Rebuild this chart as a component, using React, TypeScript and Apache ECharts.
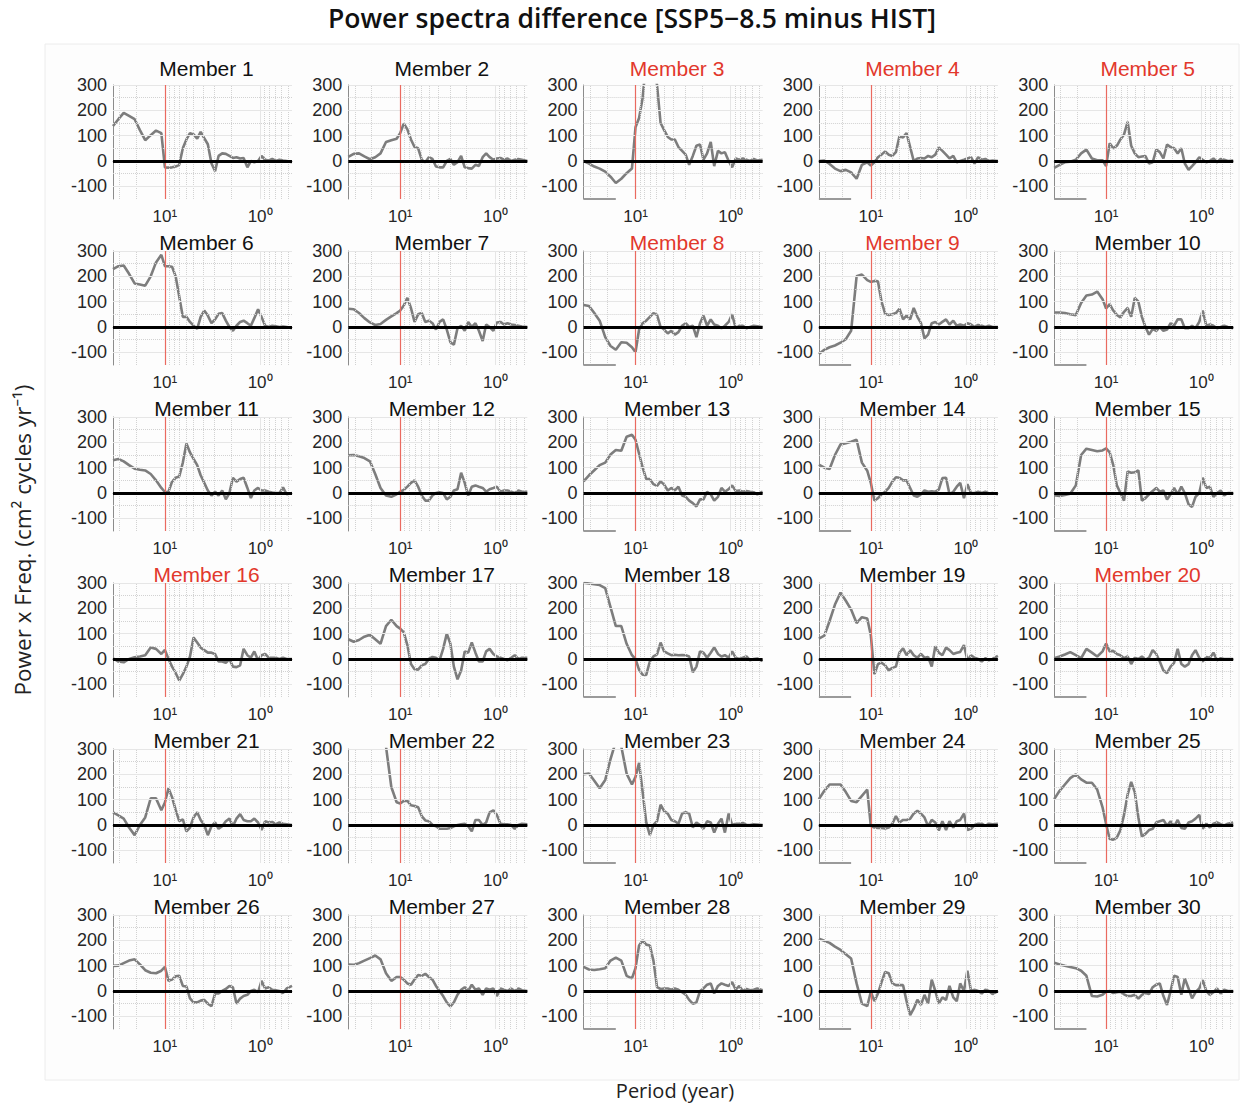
import React, { useEffect, useRef } from "react";
import * as echarts from "echarts";

// Period grid (years), long periods first
const periods = [35.1, 30.8, 27.1, 23.8, 20.8, 18.3, 16.1, 14.1, 12.4, 10.9, 10.0, 9.17, 8.41, 7.71, 7.07, 6.48, 5.94, 5.45, 5.0, 4.58, 4.21, 3.86, 3.54, 3.24, 2.97, 2.73, 2.5, 2.29, 2.1, 1.93, 1.77, 1.62, 1.49, 1.36, 1.25, 1.15, 1.05, 0.966, 0.885, 0.812, 0.745, 0.683, 0.626, 0.574, 0.526, 0.462];

const member1 = [138, 165, 190, 178, 165, 122, 82, 102, 120, 110, -25, -26, -25, -22, -15, 50, 85, 110, 105, 88, 115, 90, 66, -10, -40, 20, 30, 28, 20, 12, 15, 10, 12, -25, 0, -5, 0, 20, 5, 2, 8, 0, 5, 2, 0, -5];
const member2 = [16, 28, 30, 18, 7, 15, 30, 75, 82, 88, 110, 148, 125, 85, 55, 50, 5, -5, 15, 8, -22, -25, -25, 0, 8, -15, -5, 20, -25, -28, -30, -15, -20, 15, 30, 15, 5, 10, 12, 5, 10, 0, 5, 8, 5, 0];
const member3 = [0, -10, -22, -30, -42, -62, -87, -70, -48, -30, 133, 170, 250, 400, 420, 380, 300, 150, 122, 95, 85, 85, 55, 40, 25, -15, 20, 60, 65, 5, 30, 75, -20, 40, 30, 35, 0, -25, 10, 5, 10, 5, 0, 8, 2, 5];
const member4 = [0, 2, -12, -30, -40, -35, -45, -70, -15, -5, -18, -5, 15, 25, 38, 25, 20, 35, 98, 93, 110, 55, 0, 10, 12, 10, 20, 15, 25, 53, 40, 25, 10, 20, -5, 0, 5, 10, 15, -10, 15, 5, 8, 0, 2, 0];
const member5 = [-27, -15, -5, -3, 5, 30, 45, 10, 3, 3, -20, 70, 50, 60, 85, 105, 155, 60, 30, 15, 18, 20, -10, -5, 45, 35, 10, 65, 55, 50, 30, 50, -10, -35, -20, -5, 15, 5, -5, 0, 10, -5, 8, 5, 0, 2];
const member6 = [228, 240, 243, 210, 172, 168, 163, 200, 255, 285, 240, 240, 238, 200, 120, 40, 40, 20, 5, -7, 40, 65, 45, 15, 30, 52, 55, 25, 0, -15, 5, 20, 25, 15, 5, 35, 70, 40, 5, 0, 5, 3, 0, 2, 0, -5];
const member7 = [72, 70, 55, 35, 18, 8, 12, 28, 42, 55, 65, 85, 115, 75, 20, 50, 55, 20, 25, 15, -10, 20, 30, -10, -60, -70, -5, 5, -15, 20, 0, 15, -15, -55, 10, 0, -15, 18, 20, 10, 15, 10, 8, 5, 2, 0];
const member8 = [87, 83, 55, 25, -40, -75, -90, -60, -62, -80, -100, -10, 15, 25, 40, 55, 48, 0, -10, -25, -15, -30, -20, 5, 15, 0, 5, -40, 15, 45, 5, 30, 10, 5, -5, 5, 20, 50, -5, 5, 5, -5, 0, 5, 3, 0];
const member9 = [-107, -90, -80, -73, -62, -48, -15, 200, 207, 185, 178, 182, 180, 100, 53, 47, 50, 55, 72, 30, 45, 30, 75, 40, 15, -45, -30, 15, 20, 10, 20, 30, 10, 25, 5, 10, 5, 15, 10, 0, 8, 5, 0, 5, 0, 0];
const member10 = [57, 57, 55, 50, 47, 95, 124, 128, 140, 110, 73, 90, 65, 48, 38, 60, 75, 40, 115, 100, 40, 0, -30, -8, -15, 0, -15, -10, 15, 5, 30, 30, -5, -5, 5, -5, 20, 65, 5, 10, 5, -5, 0, 5, 0, -5];
const member11 = [129, 134, 125, 110, 96, 92, 89, 75, 50, 20, 4, 5, 45, 60, 65, 120, 195, 160, 135, 110, 70, 40, 10, -10, 5, -10, 10, -25, 0, 60, 45, 55, 60, 20, -20, 10, 20, 10, 10, 5, 2, 0, 0, 22, -5, 0];
const member12 = [149, 150, 145, 138, 125, 75, 20, -10, -15, -5, 5, 12, 25, 40, 50, 25, -10, -30, -30, -10, 0, 3, 0, -25, -15, 10, 15, 80, 40, -10, 25, 30, 25, 20, 5, 15, 20, 25, 5, 10, 10, 5, 0, 10, 5, 5];
const member13 = [46, 70, 90, 110, 120, 152, 170, 167, 222, 230, 210, 155, 100, 55, 55, 35, 28, 46, 33, 10, 20, 10, 25, -10, -15, -30, -40, -53, -25, -25, 5, -5, -30, -15, 20, 5, 15, 30, 8, 10, 5, 8, 5, 3, -5, 5];
const member14 = [112, 100, 95, 150, 192, 196, 202, 210, 120, 88, 40, -30, -20, -5, 5, 20, 45, 62, 60, 50, 50, 20, -10, -15, -5, 10, 5, 7, 5, 13, 59, 60, -5, 5, 25, 40, -20, 35, 0, 0, 5, 0, 5, -2, 0, -5];
const member15 = [-9, -12, -8, -3, 30, 150, 175, 170, 165, 168, 176, 160, 110, 30, 0, -30, 85, 80, 82, 89, -30, -20, -5, 8, 20, 5, 10, -26, -5, 20, -5, 25, 0, -45, -55, -15, 0, 60, 20, 25, -15, 0, 10, -10, 0, 0];
const member16 = [3, -10, -13, 0, 7, 10, 15, 45, 40, 20, 36, 0, -30, -55, -85, -60, -30, 10, 85, 65, 45, 35, 25, 25, 20, -10, -10, -15, 0, -30, -32, -25, 40, 15, 5, 30, -5, 15, 20, 5, 5, 5, 0, 5, 0, 0];
const member17 = [78, 68, 75, 88, 96, 78, 60, 130, 155, 130, 120, 105, 55, -20, -40, -42, -25, -20, 0, 8, 5, -5, 40, 100, 60, -30, -80, -45, 30, 25, 65, 25, -10, -10, 30, 40, 20, 10, 5, 0, -5, 5, 15, 0, 5, 5];
const member18 = [301, 298, 295, 292, 280, 205, 130, 130, 60, 15, 0, -43, -62, -63, -10, 10, 18, 65, 30, 22, 15, 17, 15, 16, 15, 10, -52, -30, 30, 25, 5, 25, 46, 20, 10, 15, 5, 30, 5, 0, 5, 10, -5, 0, 2, -8];
const member19 = [80, 92, 150, 215, 262, 230, 195, 142, 165, 160, 94, -60, -20, -15, -25, -45, -35, -30, 25, 42, 15, 35, 15, 5, 20, 5, 8, -30, 50, 25, 15, 45, 35, 20, 25, 28, 55, -5, 15, 5, 0, -10, 3, -5, 0, 12];
const member20 = [3, 10, 18, 27, 15, 3, 40, 25, 10, 30, 61, 30, 32, 20, 15, 3, 10, -20, 5, 0, 10, -3, 5, 35, 20, -10, -45, -56, -30, -15, 40, -20, -30, -20, 15, 35, 5, -10, 8, 5, 25, -5, 3, 0, 0, 0];
const member21 = [50, 38, 25, -10, -40, 0, 30, 105, 105, 58, 89, 145, 110, 60, 15, 22, -25, -10, 30, 50, 20, 0, -40, -5, 10, -15, -5, 15, 25, -5, 25, 43, 20, 15, 15, 25, 10, -20, 15, 10, 12, 3, 10, 5, 3, 0];
const member22 = [700, 650, 600, 530, 470, 420, 370, 310, 150, 90, 85, 95, 95, 78, 75, 70, 35, 18, 15, 0, -5, -15, -15, -15, -12, -5, 0, 3, 5, -5, -25, 20, 20, 0, 10, 50, 58, 40, 5, 3, 3, 0, -15, 0, 5, 3];
const member23 = [200, 203, 175, 145, 178, 260, 330, 310, 203, 160, 190, 245, 130, 10, -40, 0, 15, 80, 55, 45, 20, 15, 5, 45, 50, 45, -10, 10, 0, -15, 15, 10, -30, 5, 25, -30, 45, 0, 5, 5, 8, 0, 0, 3, 2, 0];
const member24 = [102, 135, 160, 160, 160, 130, 95, 90, 115, 140, -3, -10, -12, -12, -14, -10, 5, 35, 10, 20, 20, 25, 45, 56, 45, 30, -5, 20, 10, -22, 15, -20, 15, -10, 15, 20, 45, -20, -15, 0, 5, 5, -3, 5, 3, 5];
const member25 = [102, 135, 160, 185, 200, 180, 167, 167, 140, 70, 4, -55, -58, -50, -20, 40, 120, 170, 130, 30, -45, -35, -20, -15, 10, 15, 20, -3, 15, -5, 20, -12, -15, 10, 15, 25, 40, -15, 5, -10, 5, 10, 3, -2, 5, 10];
const member26 = [99, 100, 110, 120, 125, 105, 82, 72, 70, 80, 95, 40, 45, 58, 60, 20, 18, -29, -45, -45, -38, -35, -50, -60, -10, -10, 0, 8, 20, 15, -50, -30, -20, -15, 0, 5, -5, 40, 10, 15, 5, 3, 0, -8, 10, 20];
const member27 = [104, 103, 110, 120, 130, 140, 125, 70, 40, 55, 55, 45, 30, 25, 45, 63, 60, 68, 55, 45, 20, 0, -20, -45, -61, -45, -15, 5, 15, 0, 25, 5, 10, -15, 10, 5, 10, -20, 10, 5, 0, 10, 0, 10, 3, 0];
const member28 = [95, 85, 83, 86, 90, 120, 132, 120, 60, 50, 90, 180, 200, 183, 180, 120, 15, 8, 10, 10, 5, 10, 5, -5, -15, -35, -50, -45, 0, 10, 25, 30, -10, 20, 30, 25, 20, 35, 5, 20, 0, 8, 3, 5, 10, 3];
const member29 = [206, 198, 190, 175, 162, 145, 128, 30, -50, -60, -3, -40, -10, 35, 75, 70, 30, 23, 23, 23, -40, -95, -70, -35, -55, -15, -50, 45, 0, -50, -25, -35, 20, -25, -40, 30, 0, 80, 0, 5, 0, -10, 5, 0, -12, 0];
const member30 = [112, 105, 100, 95, 90, 80, 60, -20, -22, -15, -3, 0, -8, -5, -3, -13, -20, -20, -15, -30, -15, -8, -12, 15, 25, 30, -20, -55, 0, 60, 55, -15, 50, 10, -29, -5, 10, 43, 0, -15, -5, 10, -10, 5, 0, 0];

const members = [member1, member2, member3, member4, member5, member6, member7, member8, member9, member10, member11, member12, member13, member14, member15, member16, member17, member18, member19, member20, member21, member22, member23, member24, member25, member26, member27, member28, member29, member30];
const memberNames = members.map((_, i) => `Member ${i + 1}`);
const highlightedMembers = [3, 4, 5, 8, 9, 16, 20];

const yMajorTicks = [-100, 0, 100, 200, 300];
const yMinorTicks = [-50, 50, 150, 250];
const xMajorTicks = [1, 10];
const xMinorTicks = [0.5, 0.6, 0.7, 0.8, 0.9, 2, 3, 4, 5, 6, 7, 8, 9, 20, 30];
const dividingPeriod = 10;
const periodRange = [0.462, 35.1];
const valueRange = [-150, 300];
const artifactSpan = [35.1, 16.1];

const TITLE = "Power spectra difference [SSP5\u22128.5 minus HIST]";
const Y_TITLE = "Power x Freq. (cm\u00B2 cycles yr\u207B\u00B9)";
const X_TITLE = "Period (year)";

export default function App() {
  const ref = useRef<HTMLDivElement>(null);
  useEffect(() => {
    const chart = echarts.init(ref.current!, null, { renderer: "svg" });
    const grids: any[] = [];
    const xAxes: any[] = [];
    const yAxes: any[] = [];
    const series: any[] = [];
    const graphics: any[] = [];

    graphics.push({
      type: "rect",
      shape: { x: 45, y: 44, width: 1194, height: 1036 },
      style: { fill: "#fdfdfd", stroke: "#ececec", lineWidth: 1 },
      z: -10,
    });

    const W = 179;
    const H = 114;
    const tickFont = "'Liberation Sans', Arial, sans-serif";
    const labelFont = "'Open Sans', 'Noto Sans', sans-serif";
    const dotted = { type: "dotted", color: "#d2d2d2", width: 1 };
    const solid = { type: "solid", color: "#e6e6e6", width: 1 };

    members.forEach((vals, i) => {
      const r = Math.floor(i / 5);
      const c = i % 5;
      const left = 113 + c * 235.3;
      const top = 85 + r * 166;
      grids.push({ left, top, width: W, height: H });
      xAxes.push({
        type: "log",
        logBase: 10,
        gridIndex: i,
        min: periodRange[0],
        max: periodRange[1],
        inverse: true,
        axisLine: { show: true, lineStyle: { color: "#8c8c8c", width: 1 } },
        axisTick: { show: false },
        splitLine: { show: false },
        axisLabel: {
          margin: 9,
          fontSize: 17,
          color: "#262626",
          fontFamily: tickFont,
          formatter: (v: number) => {
            const e = Math.log10(v);
            if (Math.abs(e - 1) < 1e-6) return "10\u00B9";
            if (Math.abs(e) < 1e-6) return "10\u2070";
            return "";
          },
        },
      });
      yAxes.push({
        type: "value",
        gridIndex: i,
        min: valueRange[0],
        max: valueRange[1],
        interval: 50,
        axisLine: { show: true, lineStyle: { color: "#8c8c8c", width: 1 } },
        axisTick: { show: false },
        splitLine: { show: false },
        axisLabel: {
          margin: 6,
          fontSize: 18,
          color: "#262626",
          fontFamily: tickFont,
          formatter: (v: number) => (v % 100 === 0 ? String(v) : ""),
        },
      });

      const gridLines: any[] = [
        ...xMinorTicks.map((v) => ({ xAxis: v, lineStyle: dotted })),
        ...xMajorTicks.map((v) => ({ xAxis: v, lineStyle: solid })),
        ...yMinorTicks.map((v) => ({ yAxis: v, lineStyle: dotted })),
        ...yMajorTicks.map((v) => ({ yAxis: v, lineStyle: solid })),
      ];
      if (c >= 2) {
        gridLines.push([
          { coord: [artifactSpan[0], valueRange[0]], lineStyle: { color: "#9a9a9a", width: 2, type: "solid" } },
          { coord: [artifactSpan[1], valueRange[0]] },
        ]);
      }
      series.push({
        type: "line",
        xAxisIndex: i,
        yAxisIndex: i,
        data: [],
        z: 1,
        silent: true,
        markLine: { silent: true, symbol: ["none", "none"], label: { show: false }, data: gridLines },
      });
      series.push({
        type: "line",
        xAxisIndex: i,
        yAxisIndex: i,
        data: [],
        z: 2,
        silent: true,
        markLine: {
          silent: true,
          symbol: ["none", "none"],
          label: { show: false },
          data: [{ xAxis: dividingPeriod, lineStyle: { color: "#ea6a60", width: 1.2, type: "solid" } }],
        },
      });
      series.push({
        type: "line",
        xAxisIndex: i,
        yAxisIndex: i,
        data: periods.map((p, k) => [p, vals[k]]),
        showSymbol: false,
        symbol: "none",
        clip: true,
        z: 3,
        silent: true,
        lineStyle: { color: "#7d7d7d", width: 2.6 },
      });
      series.push({
        type: "line",
        xAxisIndex: i,
        yAxisIndex: i,
        data: [],
        z: 4,
        silent: true,
        markLine: {
          silent: true,
          symbol: ["none", "none"],
          label: { show: false },
          data: [{ yAxis: 0, lineStyle: { color: "#000000", width: 2.8, type: "solid" } }],
        },
      });

      const red = highlightedMembers.includes(i + 1);
      graphics.push({
        type: "text",
        x: left + W / 2 + 4,
        y: top - (r === 0 ? 17 : 9),
        z: 20,
        style: {
          text: memberNames[i],
          font: `21px ${tickFont}`,
          fill: red ? "#e2382c" : "#111111",
          textAlign: "center",
          textVerticalAlign: "middle",
          align: "center",
          verticalAlign: "middle",
        },
      });
    });

    graphics.push({
      type: "text",
      x: 632,
      y: 18,
      style: {
        text: TITLE,
        font: `600 26.5px ${labelFont}`,
        fill: "#111111",
        textAlign: "center",
        textVerticalAlign: "middle",
        align: "center",
        verticalAlign: "middle",
      },
    });
    graphics.push({
      type: "text",
      x: 675,
      y: 1090,
      style: {
        text: X_TITLE,
        font: `20px ${labelFont}`,
        fill: "#222222",
        textAlign: "center",
        textVerticalAlign: "middle",
        align: "center",
        verticalAlign: "middle",
      },
    });
    graphics.push({
      type: "text",
      x: 22,
      y: 540,
      rotation: Math.PI / 2,
      style: {
        text: Y_TITLE,
        font: `22.5px ${labelFont}`,
        fill: "#222222",
        textAlign: "center",
        textVerticalAlign: "middle",
        align: "center",
        verticalAlign: "middle",
      },
    });

    chart.setOption({
      animation: false,
      backgroundColor: "#ffffff",
      grid: grids,
      xAxis: xAxes,
      yAxis: yAxes,
      series,
      graphic: graphics,
    });
    return () => chart.dispose();
  }, []);
  return <div ref={ref} style={{ position: "absolute", left: 0, top: 0, width: 1241, height: 1105 }} />;
}
